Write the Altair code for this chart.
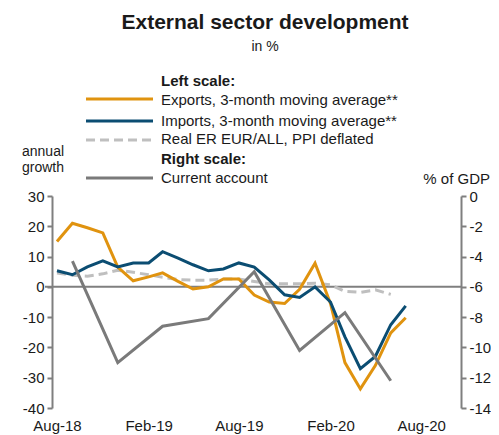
import altair as alt
import pandas as pd

# ---------------- data ----------------
months = pd.date_range("2018-08-01", "2020-07-01", freq="MS")  # Aug-18 .. Jul-20

exports = [15.0, 21.0, 19.5, 17.8, 6.5, 2.0, 3.3, 4.6, 1.8, -0.7, 0.0, 2.6,
           2.6, -2.7, -5.0, -5.5, -0.8, 7.8, -5.5, -25.0, -33.7, -26.0, -15.2, -10.2]
imports = [5.3, 4.0, 6.6, 8.6, 6.6, 7.9, 7.9, 11.6, 9.5, 7.3, 5.3, 5.9,
           7.9, 6.5, 2.3, -2.6, -3.5, 0.0, -5.0, -16.5, -27.0, -23.0, -12.5, -6.3]
real_er = [4.6, 3.8, 3.5, 4.3, 5.5, 4.8, 4.0, 3.2, 2.4, 2.2, 2.2, 2.6,
           2.6, 1.8, 1.0, 1.0, 1.0, 1.2, 0.7, -1.5, -1.8, -1.0, -2.5]
ca_quarters = ["2018-09-01", "2018-12-01", "2019-03-01", "2019-06-01",
               "2019-09-01", "2019-12-01", "2020-03-01", "2020-06-01"]
current_account = [-4.3, -11.0, -8.6, -8.1, -5.0, -10.2, -7.7, -12.2]

left_ticks = [-40, -30, -20, -10, 0, 10, 20, 30]
right_ticks = [-14, -12, -10, -8, -6, -4, -2, 0]
x_tick_dates = [(2018, 8), (2019, 2), (2019, 8), (2020, 2), (2020, 8)]

legend_left = ["Exports, 3-month moving average**", "Imports, 3-month moving average**",
               "Real ER EUR/ALL, PPI deflated"]
legend_right = ["Current account"]

# ---------------- style ----------------
FONT = "Liberation Sans"
TXT = "#1a1a1a"
AX = "#7f7f7f"
C_EXP = "#E0930F"
C_IMP = "#0B4D72"
C_ER = "#BFBFBF"
C_CA = "#7A7A7A"
W, H = 409, 212
FS = 15
MINUS = "datum.value < 0 ? '-' + abs(datum.value) : '' + datum.value"

df_exp = pd.DataFrame({"date": months, "v": exports})
df_imp = pd.DataFrame({"date": months, "v": imports})
df_er = pd.DataFrame({"date": months[:len(real_er)], "v": real_er})
df_ca = pd.DataFrame({"date": pd.to_datetime(ca_quarters), "v": current_account})

x_scale = alt.Scale(domain=[alt.DateTime(year=2018, month=7, date=22),
                            alt.DateTime(year=2020, month=10, date=20)])
x_axis = alt.Axis(values=[alt.DateTime(year=y, month=m, date=1) for y, m in x_tick_dates],
                  format="%b-%y", ticks=False, domain=False, grid=False,
                  labelFont=FONT, labelFontSize=FS, labelColor=TXT, labelPadding=10,
                  labelFlush=False, labelOverlap=False, title=None)


def X():
    return alt.X("date:T", scale=x_scale, axis=x_axis)


yl_scale = alt.Scale(domain=[-40, 30], nice=False, zero=False)
yl_axis = alt.Axis(values=left_ticks, grid=False, domainColor=AX, domainWidth=2,
                   tickColor=AX, tickWidth=2, tickSize=5, labelFont=FONT, labelFontSize=FS,
                   labelColor=TXT, labelPadding=3, labelExpr=MINUS, title=None)
yr_scale = alt.Scale(domain=[-14, 0], nice=False, zero=False)
yr_axis = alt.Axis(orient="right", values=right_ticks, grid=False, domainColor=AX,
                   domainWidth=2, tickColor=AX, tickWidth=2, tickSize=5, labelFont=FONT,
                   labelFontSize=FS, labelColor=TXT, labelPadding=3, labelExpr=MINUS,
                   title=None)


def YL():
    return alt.Y("v:Q", scale=yl_scale, axis=yl_axis)


zero = alt.Chart(pd.DataFrame({"v": [0]})).mark_rule(color=AX, strokeWidth=2).encode(
    y=YL(), x=alt.value(-7), x2=alt.value(W))
er_line = alt.Chart(df_er).mark_line(color=C_ER, strokeWidth=3, strokeDash=[9, 5]).encode(x=X(), y=YL())
exp_line = alt.Chart(df_exp).mark_line(color=C_EXP, strokeWidth=3).encode(x=X(), y=YL())
imp_line = alt.Chart(df_imp).mark_line(color=C_IMP, strokeWidth=3).encode(x=X(), y=YL())
left = alt.layer(zero, er_line, exp_line, imp_line)

ca_line = alt.Chart(df_ca).mark_line(color=C_CA, strokeWidth=3).encode(
    x=X(), y=alt.Y("v:Q", scale=yr_scale, axis=yr_axis))


def txt(text, x, y, size=FS, bold=False, align="left"):
    return alt.Chart(pd.DataFrame({"t": [text]})).mark_text(
        font=FONT, fontSize=size, fontWeight="bold" if bold else "normal", color=TXT,
        align=align, baseline="middle").encode(text="t:N", x=alt.value(x), y=alt.value(y))


def sym(color, y, dash=None):
    kw = dict(color=color, strokeWidth=3)
    if dash:
        kw["strokeDash"] = dash
    return alt.Chart(pd.DataFrame({"t": [0]})).mark_rule(**kw).encode(
        x=alt.value(34), x2=alt.value(101), y=alt.value(y))


annotations = [
    txt("External sector development", 213, -173, size=21, bold=True, align="center"),
    txt("in %", 213, -149, size=14, align="center"),
    txt("Left scale:", 109, -115, bold=True),
    txt(legend_left[0], 109, -96.5),
    txt(legend_left[1], 109, -75.5),
    txt(legend_left[2], 109, -57),
    txt("Right scale:", 109, -37, bold=True),
    txt(legend_right[0], 109, -18),
    sym(C_EXP, -97), sym(C_IMP, -75), sym(C_ER, -56, [9, 5]), sym(C_CA, -18),
    txt("annual", -9, -44, size=14, align="center"),
    txt("growth", -9, -28, size=14, align="center"),
    txt("% of GDP", 438, -17, align="right"),
]

chart = alt.layer(left, ca_line, *annotations).resolve_scale(y="independent").properties(
    width=W, height=H,
    padding={"left": 44, "top": 188, "right": 30, "bottom": 27},
    autosize=alt.AutoSizeParams(type="none"),
    background="white",
).configure_view(stroke=None)

chart.save("out.html", embed_options={"renderer": "svg", "actions": False})
